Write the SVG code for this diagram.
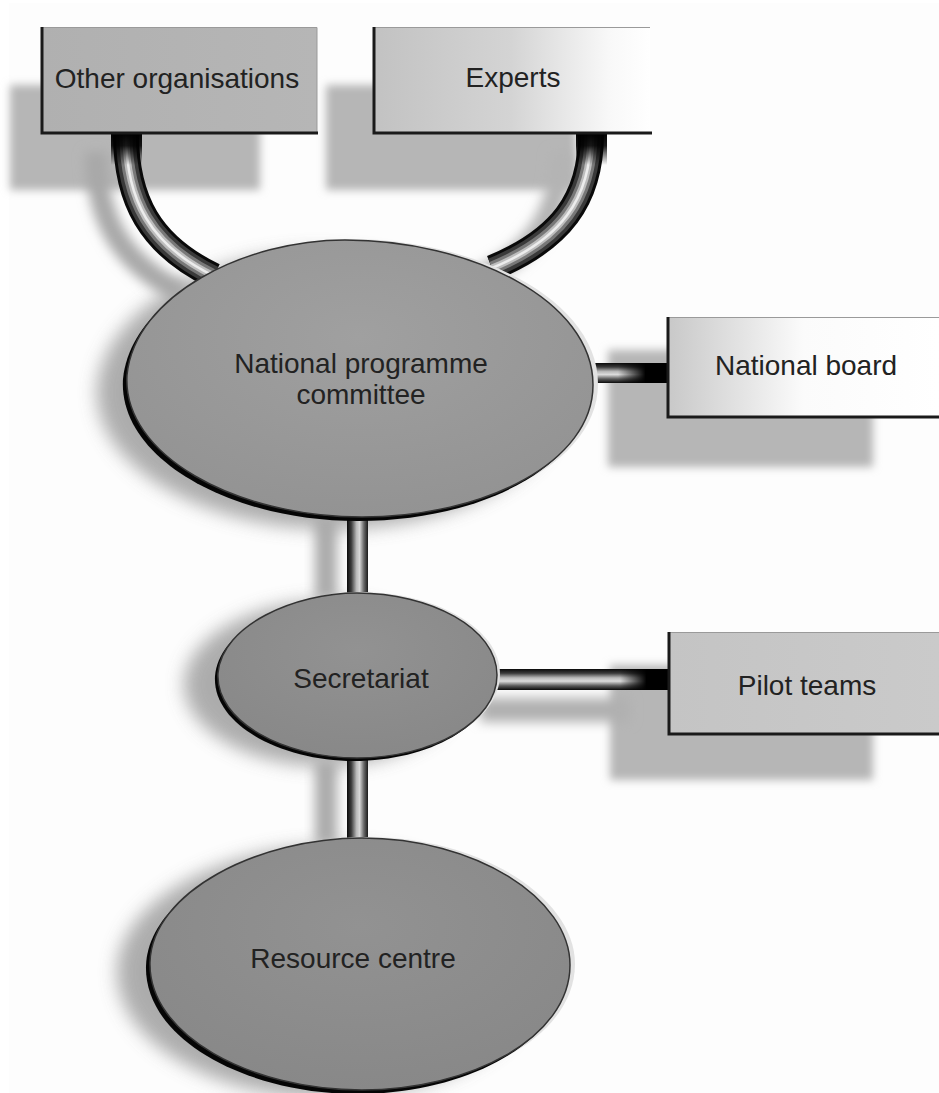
<svg xmlns="http://www.w3.org/2000/svg" width="939" height="1093" viewBox="0 0 939 1093">
<style>
  .lbl { font-family: "Liberation Sans", Arial, sans-serif; font-size: 28px; fill: #222; text-anchor: middle; }
  .sh { fill: #b6b6b6; filter: url(#blurS); }
  .esh { fill: #999999; opacity: 0.8; filter: url(#blurL); }
  .t0 { fill: none; stroke: #0a0a0a; stroke-width: 26; }
  .t1 { fill: none; stroke: #3a3a3a; stroke-width: 20; }
  .t2 { fill: none; stroke: #787878; stroke-width: 13; }
  .t3 { fill: none; stroke: #bdbdbd; stroke-width: 7; }
  .t4 { fill: none; stroke: #ececec; stroke-width: 2.5; }
  .edge { fill: none; stroke: #1a1a1a; stroke-width: 3; }
  .topedge { fill: none; stroke: #9a9a9a; stroke-width: 1; }
  .rimL { fill: #050505; }
  .rimR { fill: #e2e2e2; }
</style>
<defs>
  <filter id="blurS" x="-20%" y="-30%" width="140%" height="160%"><feGaussianBlur stdDeviation="4"/></filter>
  <filter id="blurL" x="-30%" y="-30%" width="160%" height="160%"><feGaussianBlur stdDeviation="9"/></filter>
  <filter id="blurT" x="-50%" y="-50%" width="200%" height="200%"><feGaussianBlur stdDeviation="6"/></filter>
  <linearGradient id="tubeV" x1="0" y1="0" x2="1" y2="0">
    <stop offset="0" stop-color="#0a0a0a"/>
    <stop offset="0.2" stop-color="#3a3a3a"/>
    <stop offset="0.45" stop-color="#b8b8b8"/>
    <stop offset="0.6" stop-color="#d8d8d8"/>
    <stop offset="0.8" stop-color="#6a6a6a"/>
    <stop offset="1" stop-color="#1a1a1a"/>
  </linearGradient>
  <linearGradient id="tubeH" x1="0" y1="0" x2="0" y2="1">
    <stop offset="0" stop-color="#0a0a0a"/>
    <stop offset="0.2" stop-color="#3a3a3a"/>
    <stop offset="0.42" stop-color="#b8b8b8"/>
    <stop offset="0.58" stop-color="#dcdcdc"/>
    <stop offset="0.8" stop-color="#5a5a5a"/>
    <stop offset="1" stop-color="#0a0a0a"/>
  </linearGradient>
  <linearGradient id="fadeR" x1="0" y1="0" x2="1" y2="0">
    <stop offset="0" stop-color="#000" stop-opacity="0"/>
    <stop offset="0.55" stop-color="#000" stop-opacity="1"/>
    <stop offset="1" stop-color="#000" stop-opacity="1"/>
  </linearGradient>
  <linearGradient id="fadeD" x1="0" y1="0" x2="0" y2="1">
    <stop offset="0" stop-color="#000" stop-opacity="1"/>
    <stop offset="0.4" stop-color="#000" stop-opacity="0.9"/>
    <stop offset="1" stop-color="#000" stop-opacity="0"/>
  </linearGradient>
  <linearGradient id="gOther" x1="0" y1="0" x2="1" y2="0">
    <stop offset="0" stop-color="#b0b0b0"/>
    <stop offset="1" stop-color="#b6b6b6"/>
  </linearGradient>
  <linearGradient id="gExperts" x1="0" y1="0" x2="1" y2="0">
    <stop offset="0" stop-color="#c2c2c2"/>
    <stop offset="0.5" stop-color="#d4d4d4"/>
    <stop offset="0.85" stop-color="#f8f8f8"/>
    <stop offset="1" stop-color="#ffffff"/>
  </linearGradient>
  <linearGradient id="gBoard" x1="0" y1="0" x2="1" y2="0">
    <stop offset="0" stop-color="#c8c8c8"/>
    <stop offset="0.3" stop-color="#e6e6e6"/>
    <stop offset="0.5" stop-color="#fbfbfb"/>
    <stop offset="1" stop-color="#ffffff"/>
  </linearGradient>
  <linearGradient id="gPilot" x1="0" y1="0" x2="1" y2="0">
    <stop offset="0" stop-color="#c4c4c4"/>
    <stop offset="1" stop-color="#cacaca"/>
  </linearGradient>
  <radialGradient id="gEll" cx="0.5" cy="0.35" r="0.65">
    <stop offset="0" stop-color="#a0a0a0"/>
    <stop offset="1" stop-color="#939393"/>
  </radialGradient>
  <radialGradient id="gEll2" cx="0.5" cy="0.35" r="0.65">
    <stop offset="0" stop-color="#929292"/>
    <stop offset="1" stop-color="#888888"/>
  </radialGradient>
  <path id="pNPC" d="M 127 375 C 135 295, 245 240, 345 240 C 470 240, 593 300, 593 385 C 593 462, 485 517, 362 517 C 235 517, 122 455, 127 375 Z"/>
  <path id="pSec" d="M 218 673 C 222 625, 295 593, 357 593 C 430 593, 497 628, 497 675 C 497 722, 432 758, 357 758 C 285 758, 215 722, 218 673 Z"/>
  <path id="pRes" d="M 150 962 C 152 892, 258 838, 362 838 C 475 838, 570 898, 570 965 C 570 1038, 470 1090, 362 1090 C 250 1090, 148 1035, 150 962 Z"/>
  <path id="cOther" d="M 126 134 C 126 200, 150 245, 214 276"/>
  <path id="cExperts" d="M 591 134 C 591 200, 560 240, 492 268"/>
</defs>

<rect x="0" y="0" width="939" height="1093" fill="#ffffff"/>
<rect x="9" y="3" width="930" height="1090" fill="#fdfdfd"/>

<g id="shadows">
  <rect class="sh" x="10" y="85" width="250" height="105"/>
  <rect class="sh" x="326" y="85" width="250" height="105"/>
  <rect class="sh" x="608" y="350" width="265" height="117"/>
  <rect class="sh" x="610" y="665" width="263" height="115"/>
  <use href="#pNPC" class="esh" transform="translate(-30 12)"/>
  <use href="#pSec" class="esh" transform="translate(-34 8)"/>
  <use href="#pRes" class="esh" transform="translate(-33 8)"/>
  <use href="#cOther" fill="none" stroke="#a8a8a8" stroke-width="22" filter="url(#blurT)" transform="translate(-30 18)"/>
  <use href="#cExperts" fill="none" stroke="#b4b4b4" stroke-width="22" filter="url(#blurT)" transform="translate(-30 18)"/>
  <rect x="315" y="515" width="22" height="85" fill="#aaaaaa" filter="url(#blurT)"/>
  <rect x="315" y="760" width="22" height="85" fill="#aaaaaa" filter="url(#blurT)"/>
  <rect x="480" y="698" width="150" height="24" fill="#b0b0b0" filter="url(#blurT)"/>
</g>

<g id="connectors">
  <g id="conn-other-npc">
    <use href="#cOther" class="t0"/>
    <use href="#cOther" class="t1"/>
    <use href="#cOther" class="t2"/>
    <use href="#cOther" class="t3"/>
    <use href="#cOther" class="t4"/>
    <rect x="111" y="133" width="31" height="32" fill="url(#fadeD)"/>
  </g>
  <g id="conn-experts-npc">
    <use href="#cExperts" class="t0"/>
    <use href="#cExperts" class="t1"/>
    <use href="#cExperts" class="t2"/>
    <use href="#cExperts" class="t3"/>
    <use href="#cExperts" class="t4"/>
    <rect x="576" y="133" width="31" height="32" fill="url(#fadeD)"/>
  </g>
  <g id="conn-npc-board">
    <rect x="580" y="363" width="88" height="20" fill="url(#tubeH)"/>
    <rect x="618" y="363" width="50" height="20" fill="url(#fadeR)"/>
  </g>
  <g id="conn-npc-sec">
    <rect x="347" y="505" width="21" height="100" fill="url(#tubeV)"/>
  </g>
  <g id="conn-sec-pilot">
    <rect x="490" y="669" width="178" height="21" fill="url(#tubeH)"/>
    <rect x="620" y="669" width="48" height="21" fill="url(#fadeR)"/>
  </g>
  <g id="conn-sec-res">
    <rect x="347" y="750" width="21" height="95" fill="url(#tubeV)"/>
  </g>
</g>

<g id="node-other">
  <rect x="41" y="27" width="276" height="107" fill="url(#gOther)"/>
  <path class="topedge" d="M 41 27.5 H 317 V 134"/>
  <path class="edge" d="M 42 27 V 133 H 318"/>
  <text class="lbl" x="177" y="88">Other organisations</text>
</g>

<g id="node-experts">
  <rect x="373" y="27" width="277" height="107" fill="url(#gExperts)"/>
  <path class="topedge" d="M 373 27.5 H 650"/>
  <path class="edge" d="M 374 27 V 133 H 652"/>
  <text class="lbl" x="513" y="87">Experts</text>
</g>

<g id="node-board">
  <rect x="667" y="317" width="272" height="101" fill="url(#gBoard)"/>
  <path class="topedge" d="M 667 317.5 H 939"/>
  <path class="edge" d="M 668 317 V 417 H 939"/>
  <text class="lbl" x="806" y="375">National board</text>
</g>

<g id="node-pilot">
  <rect x="668" y="632" width="271" height="103" fill="url(#gPilot)"/>
  <path class="topedge" d="M 668 632.5 H 939"/>
  <path class="edge" d="M 669 632 V 734 H 939"/>
  <text class="lbl" x="807" y="695">Pilot teams</text>
</g>

<g id="node-npc">
  <use href="#pNPC" class="rimR" transform="translate(5 -1)"/>
  <use href="#pNPC" class="rimL" transform="translate(-4 4)"/>
  <use href="#pNPC" fill="url(#gEll)" stroke="#333" stroke-width="1.5"/>
  <text class="lbl" x="361" y="373">National programme</text>
  <text class="lbl" x="361" y="404">committee</text>
</g>

<g id="node-sec">
  <use href="#pSec" class="rimR" transform="translate(3 -1)"/>
  <use href="#pSec" class="rimL" transform="translate(-3 3)"/>
  <use href="#pSec" fill="url(#gEll2)" stroke="#333" stroke-width="1.5"/>
  <text class="lbl" x="361" y="688">Secretariat</text>
</g>

<g id="node-res">
  <use href="#pRes" class="rimR" transform="translate(5 -1)"/>
  <use href="#pRes" class="rimL" transform="translate(-4 4)"/>
  <use href="#pRes" fill="url(#gEll2)" stroke="#333" stroke-width="1.5"/>
  <text class="lbl" x="353" y="968">Resource centre</text>
</g>
</svg>
